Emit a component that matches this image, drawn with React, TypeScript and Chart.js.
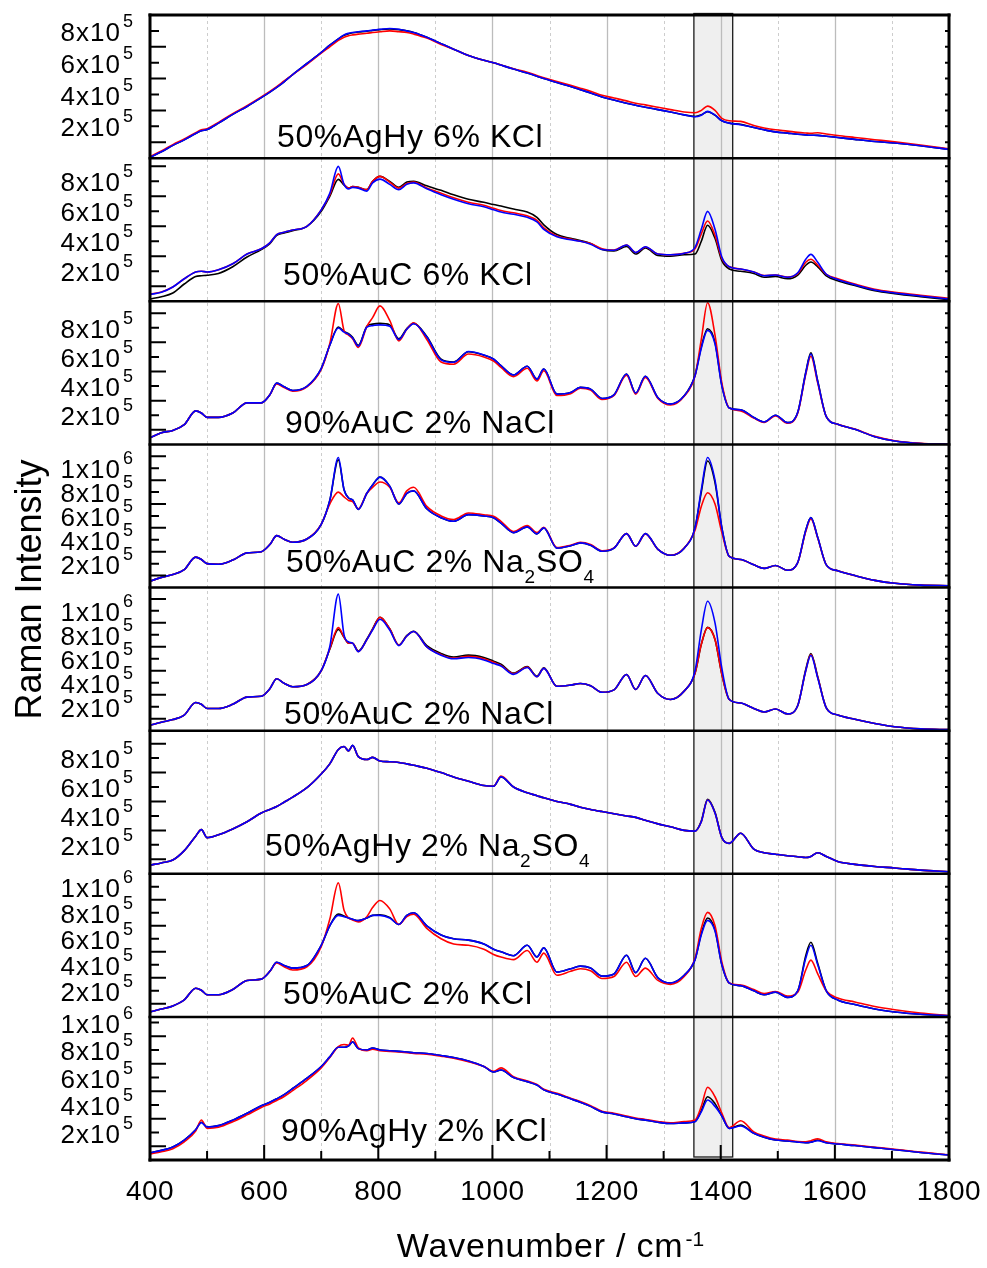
import React, { useEffect, useRef } from 'react';
import { Chart, registerables } from 'chart.js';

Chart.register(...registerables);

const FONT = '"Liberation Sans", Arial, Helvetica, sans-serif';

// Wavenumber grid, cm^-1
const WAVENUMBERS = [
  400, 420, 440, 460, 480, 490, 500, 520, 545, 570,
  595, 610, 622, 635, 650, 675, 700, 715, 730, 740,
  748, 755, 765, 780, 790, 803, 820, 836, 850, 862,
  885, 910, 932, 958, 985, 1002, 1015, 1037, 1061, 1078,
  1090, 1113, 1137, 1154, 1172, 1192, 1213, 1235, 1251, 1268,
  1290, 1312, 1336, 1355, 1366, 1377, 1390, 1402, 1415, 1435,
  1458, 1476, 1496, 1517, 1535, 1549, 1558, 1570, 1585, 1605,
  1635, 1670, 1705, 1750, 1800,
];

// Raman intensities, in units of 1e5
// Panel 1: 50%AgHy 6% KCl
const P1_BLACK = [
  0.06, 0.4, 0.8, 1.15, 1.55, 1.72, 1.8, 2.2, 2.75, 3.25,
  3.8, 4.15, 4.45, 4.8, 5.25, 5.95, 6.65, 7.1, 7.5, 7.72,
  7.82, 7.88, 7.93, 7.98, 8.03, 8.08, 8.12, 8.08, 8.0, 7.9,
  7.6, 7.2, 6.85, 6.45, 6.15, 6.0, 5.85, 5.6, 5.35, 5.15,
  5.0, 4.75, 4.5, 4.3, 4.1, 3.85, 3.65, 3.45, 3.32, 3.2,
  3.05, 2.9, 2.72, 2.62, 2.72, 2.92, 2.7, 2.35, 2.2, 2.12,
  1.92, 1.78, 1.65, 1.57, 1.5, 1.46, 1.44, 1.43, 1.38, 1.3,
  1.18, 1.05, 0.95, 0.78, 0.55,
];
const P1_RED = [
  0.1, 0.45, 0.85, 1.2, 1.6, 1.78, 1.85, 2.25, 2.8, 3.3,
  3.85, 4.2, 4.5, 4.85, 5.25, 5.9, 6.6, 7.0, 7.4, 7.6,
  7.7, 7.75, 7.8, 7.85, 7.9, 7.95, 8.0, 7.95, 7.9, 7.8,
  7.55, 7.15, 6.85, 6.45, 6.15, 6.0, 5.85, 5.62, 5.4, 5.2,
  5.05, 4.82, 4.58, 4.4, 4.2, 3.95, 3.78, 3.6, 3.45, 3.35,
  3.2, 3.05, 2.9, 2.85, 3.0, 3.27, 3.0, 2.5, 2.35, 2.31,
  2.05, 1.9, 1.78, 1.7, 1.62, 1.58, 1.56, 1.6, 1.52, 1.42,
  1.3, 1.16, 1.02, 0.82, 0.58,
];
const P1_BLUE = [
  0.06, 0.4, 0.8, 1.15, 1.55, 1.72, 1.8, 2.2, 2.75, 3.25,
  3.8, 4.15, 4.45, 4.8, 5.25, 5.95, 6.65, 7.1, 7.5, 7.75,
  7.85, 7.9, 7.95, 8.0, 8.05, 8.1, 8.15, 8.1, 8.0, 7.9,
  7.6, 7.2, 6.85, 6.45, 6.15, 6.0, 5.85, 5.6, 5.35, 5.15,
  5.0, 4.75, 4.5, 4.3, 4.1, 3.85, 3.65, 3.45, 3.32, 3.2,
  3.05, 2.9, 2.72, 2.6, 2.7, 2.94, 2.7, 2.35, 2.2, 2.1,
  1.92, 1.78, 1.65, 1.57, 1.5, 1.46, 1.44, 1.43, 1.38, 1.3,
  1.18, 1.05, 0.95, 0.78, 0.55,
];

// Panel 2: 50%AuC 6% KCl
const P2_BLACK = [
  0.15, 0.3, 0.55, 1.15, 1.65, 1.7, 1.73, 1.85, 2.3, 2.95,
  3.45, 3.85, 4.4, 4.55, 4.7, 5.0, 6.0, 7.0, 8.13, 7.75,
  7.55, 7.65, 7.6, 7.45, 8.0, 8.33, 8.0, 7.6, 7.95, 8.0,
  7.7, 7.4, 7.1, 6.8, 6.6, 6.45, 6.35, 6.15, 5.95, 5.6,
  5.1, 4.45, 4.2, 4.05, 3.85, 3.45, 3.35, 3.65, 3.15, 3.55,
  3.05, 3.0, 3.1, 3.15, 4.0, 5.07, 4.2, 2.7, 2.15, 2.0,
  1.85, 1.6, 1.65, 1.5, 1.75, 2.4, 2.62, 2.3, 1.7, 1.36,
  1.05, 0.7, 0.5, 0.3, 0.1,
];
const P2_RED = [
  0.48, 0.62, 0.95, 1.5, 1.95, 2.0, 1.95, 2.1, 2.5, 3.15,
  3.5, 3.9, 4.45, 4.6, 4.75, 5.0, 6.1, 7.1, 8.5, 7.8,
  7.55, 7.65, 7.6, 7.45, 8.0, 8.33, 7.95, 7.55, 7.85, 7.95,
  7.55, 7.2, 6.9, 6.6, 6.4, 6.2, 6.05, 5.9, 5.7, 5.4,
  4.9, 4.35, 4.15, 4.0, 3.85, 3.5, 3.42, 3.75, 3.25, 3.62,
  3.15, 3.1, 3.2, 3.5, 4.5, 5.35, 4.4, 2.85, 2.3, 2.15,
  1.95, 1.72, 1.75, 1.62, 1.85, 2.6, 2.8, 2.4, 1.8, 1.5,
  1.15, 0.8, 0.6, 0.4, 0.2,
];
const P2_BLUE = [
  0.45, 0.6, 0.95, 1.5, 1.95, 2.0, 1.95, 2.1, 2.5, 3.15,
  3.5, 3.9, 4.45, 4.6, 4.75, 5.0, 6.1, 7.2, 9.0, 7.8,
  7.5, 7.6, 7.55, 7.35, 7.9, 8.15, 7.8, 7.45, 7.8, 7.9,
  7.5, 7.1, 6.8, 6.5, 6.3, 6.1, 5.95, 5.8, 5.6, 5.3,
  4.8, 4.3, 4.1, 4.0, 3.8, 3.45, 3.4, 3.75, 3.25, 3.64,
  3.15, 3.1, 3.2, 3.6, 4.8, 6.0, 4.8, 2.95, 2.3, 2.15,
  1.95, 1.7, 1.75, 1.6, 1.9, 2.8, 3.13, 2.6, 1.8, 1.45,
  1.1, 0.75, 0.55, 0.35, 0.15,
];

// Panel 3: 90%AuC 2% NaCl
const P3_BLACK = [
  0.46, 0.8, 0.96, 1.35, 2.3, 2.15, 1.85, 1.85, 2.15, 2.85,
  2.85, 3.4, 4.2, 3.95, 3.7, 3.98, 5.2, 6.8, 8.05, 7.75,
  7.6, 7.35, 6.8, 8.1, 8.25, 8.3, 8.2, 7.25, 7.95, 8.3,
  7.4, 5.85, 5.65, 6.35, 6.12, 5.85, 5.4, 4.76, 5.36, 4.48,
  5.17, 3.45, 3.56, 3.91, 3.79, 3.15, 3.4, 4.83, 3.52, 4.67,
  3.2, 2.76, 3.33, 4.75, 6.7, 7.93, 7.0, 4.05, 2.5, 2.37,
  1.84, 1.54, 2.0, 1.49, 2.2, 4.95, 6.28, 4.35, 1.9, 1.38,
  1.03, 0.53, 0.23, 0.06, 0.0,
];
const P3_RED = [
  0.46, 0.8, 0.96, 1.35, 2.3, 2.15, 1.85, 1.85, 2.15, 2.85,
  2.85, 3.4, 4.15, 3.9, 3.65, 3.95, 5.15, 6.9, 9.66, 7.8,
  7.5, 7.25, 6.65, 8.1, 8.7, 9.5, 8.5, 7.1, 7.9, 8.35,
  7.2, 5.65, 5.5, 6.2, 6.0, 5.72, 5.28, 4.65, 5.22, 4.35,
  5.05, 3.35, 3.48, 3.85, 3.72, 3.08, 3.35, 4.75, 3.45, 4.6,
  3.15, 2.7, 3.3, 4.7, 7.2, 9.72, 7.5, 4.2, 2.5, 2.3,
  1.8, 1.5, 1.95, 1.45, 2.15, 4.8, 6.05, 4.2, 1.9, 1.38,
  1.05, 0.55, 0.25, 0.07, 0.0,
];
const P3_BLUE = [
  0.46, 0.8, 0.96, 1.35, 2.3, 2.15, 1.85, 1.85, 2.15, 2.85,
  2.85, 3.4, 4.2, 3.95, 3.7, 3.98, 5.2, 6.8, 7.98, 7.7,
  7.55, 7.3, 6.74, 8.05, 8.15, 8.2, 8.1, 7.2, 7.9, 8.28,
  7.36, 5.8, 5.63, 6.37, 6.14, 5.86, 5.4, 4.76, 5.36, 4.48,
  5.17, 3.45, 3.56, 3.91, 3.79, 3.15, 3.4, 4.83, 3.52, 4.67,
  3.2, 2.76, 3.33, 4.7, 6.6, 7.82, 6.9, 4.0, 2.5, 2.37,
  1.84, 1.54, 2.0, 1.49, 2.2, 4.9, 6.2, 4.3, 1.9, 1.38,
  1.03, 0.53, 0.23, 0.06, 0.0,
];

// Panel 4: 50%AuC 2% Na2SO4
const P4_BLACK = [
  0.53, 0.85, 1.09, 1.5, 2.55, 2.35, 2.0, 1.95, 2.3, 2.9,
  3.0, 3.6, 4.35, 4.05, 3.8, 4.07, 5.3, 7.3, 10.7, 8.2,
  7.5, 7.35, 6.55, 7.9, 8.6, 9.25, 8.5, 7.0, 7.9, 8.1,
  6.6, 5.85, 5.55, 6.11, 6.0, 5.85, 5.4, 4.6, 5.08, 4.5,
  5.0, 3.3, 3.5, 3.74, 3.55, 3.04, 3.3, 4.52, 3.46, 4.52,
  3.2, 2.7, 3.3, 5.0, 8.0, 10.6, 8.8, 5.0, 2.6, 2.35,
  1.9, 1.6, 1.85, 1.45, 2.1, 4.8, 5.86, 4.2, 1.9, 1.4,
  1.0, 0.6, 0.35, 0.2, 0.15,
];
const P4_RED = [
  0.53, 0.85, 1.09, 1.5, 2.55, 2.35, 2.0, 1.95, 2.3, 2.9,
  3.0, 3.6, 4.35, 4.05, 3.8, 4.07, 5.3, 7.0, 8.0, 7.6,
  7.3, 7.2, 6.6, 7.9, 8.4, 8.85, 8.4, 7.1, 8.1, 8.4,
  6.8, 6.0, 5.7, 6.25, 6.1, 5.98, 5.55, 4.7, 5.2, 4.6,
  5.05, 3.35, 3.55, 3.78, 3.6, 3.08, 3.32, 4.52, 3.46, 4.5,
  3.2, 2.7, 3.3, 4.8, 6.8, 7.95, 7.0, 4.6, 2.6, 2.35,
  1.9, 1.6, 1.85, 1.45, 2.1, 4.7, 5.75, 4.15, 1.9, 1.4,
  1.0, 0.6, 0.35, 0.2, 0.15,
];
const P4_BLUE = [
  0.53, 0.85, 1.09, 1.5, 2.55, 2.35, 2.0, 1.95, 2.3, 2.9,
  3.0, 3.6, 4.35, 4.05, 3.8, 4.07, 5.3, 7.3, 10.9, 8.2,
  7.5, 7.35, 6.55, 7.9, 8.6, 9.25, 8.5, 7.0, 7.9, 8.1,
  6.6, 5.85, 5.55, 6.11, 6.0, 5.85, 5.4, 4.6, 5.08, 4.5,
  5.0, 3.3, 3.5, 3.74, 3.55, 3.04, 3.3, 4.52, 3.46, 4.52,
  3.2, 2.7, 3.3, 5.0, 8.2, 10.9, 9.0, 5.0, 2.6, 2.35,
  1.9, 1.6, 1.85, 1.45, 2.1, 4.8, 5.86, 4.2, 1.9, 1.4,
  1.0, 0.6, 0.35, 0.2, 0.15,
];

// Panel 5: 50%AuC 2% NaCl
const P5_BLACK = [
  0.45, 0.7, 0.92, 1.3, 2.35, 2.2, 1.85, 1.85, 2.2, 2.8,
  2.87, 3.5, 4.33, 3.95, 3.66, 3.85, 5.0, 6.8, 8.45, 7.8,
  7.3, 7.3, 6.65, 7.65, 8.5, 9.46, 8.5, 7.15, 7.95, 8.3,
  7.1, 6.45, 6.15, 6.3, 6.1, 5.8, 5.55, 4.8, 5.35, 4.55,
  5.25, 3.7, 3.8, 3.93, 3.75, 3.2, 3.4, 4.69, 3.43, 4.6,
  3.1, 2.6, 3.3, 4.8, 7.2, 8.62, 7.6, 4.7, 2.6, 2.3,
  1.85, 1.55, 1.8, 1.4, 2.1, 5.1, 6.44, 4.5, 1.9, 1.3,
  0.95, 0.6, 0.33, 0.15, 0.08,
];
const P5_RED = [
  0.45, 0.7, 0.92, 1.3, 2.35, 2.2, 1.85, 1.85, 2.2, 2.8,
  2.87, 3.5, 4.33, 3.95, 3.66, 3.85, 5.0, 6.85, 8.6, 7.8,
  7.3, 7.3, 6.6, 7.6, 8.45, 9.46, 8.5, 7.15, 7.9, 8.28,
  7.0, 6.35, 6.05, 6.2, 6.0, 5.7, 5.45, 4.75, 5.3, 4.5,
  5.2, 3.7, 3.8, 3.93, 3.75, 3.2, 3.4, 4.69, 3.43, 4.6,
  3.1, 2.6, 3.3, 4.8, 7.2, 8.6, 7.6, 4.7, 2.6, 2.3,
  1.85, 1.55, 1.8, 1.4, 2.1, 5.0, 6.35, 4.45, 1.9, 1.3,
  0.95, 0.6, 0.33, 0.15, 0.08,
];
const P5_BLUE = [
  0.45, 0.7, 0.92, 1.3, 2.35, 2.2, 1.85, 1.85, 2.2, 2.8,
  2.87, 3.5, 4.33, 3.95, 3.66, 3.85, 5.0, 7.0, 11.4, 8.0,
  7.4, 7.3, 6.6, 7.6, 8.4, 9.3, 8.4, 7.1, 7.9, 8.28,
  7.0, 6.3, 6.0, 6.1, 5.9, 5.6, 5.4, 4.7, 5.27, 4.5,
  5.2, 3.7, 3.8, 3.93, 3.75, 3.2, 3.4, 4.69, 3.43, 4.6,
  3.1, 2.6, 3.3, 5.0, 8.4, 10.8, 9.0, 5.2, 2.6, 2.3,
  1.85, 1.55, 1.8, 1.4, 2.1, 5.0, 6.28, 4.4, 1.9, 1.3,
  0.95, 0.6, 0.33, 0.15, 0.08,
];

// Panel 6: 50%AgHy 2% Na2SO4
const P6_BLACK = [
  0.6, 0.75, 0.95, 1.6, 2.6, 3.05, 2.5, 2.7, 3.1, 3.6,
  4.2, 4.45, 4.65, 4.95, 5.3, 5.95, 6.9, 7.6, 8.6, 8.8,
  8.5, 8.88, 8.1, 7.9, 8.05, 7.8, 7.75, 7.7, 7.6, 7.5,
  7.3, 7.0, 6.7, 6.4, 6.1, 6.05, 6.7, 6.0, 5.6, 5.4,
  5.25, 5.0, 4.8, 4.6, 4.45, 4.3, 4.15, 4.0, 3.9, 3.7,
  3.45, 3.25, 3.0, 2.95, 3.65, 5.15, 4.25, 2.5, 2.1, 2.8,
  1.7, 1.45, 1.35, 1.25, 1.18, 1.12, 1.2, 1.45, 1.2, 0.85,
  0.65, 0.5, 0.4, 0.25, 0.14,
];
const P6_RED = [
  0.6, 0.75, 0.95, 1.6, 2.6, 3.05, 2.5, 2.7, 3.1, 3.6,
  4.2, 4.45, 4.65, 4.95, 5.3, 5.95, 6.9, 7.6, 8.6, 8.8,
  8.5, 8.85, 8.1, 7.9, 8.05, 7.8, 7.75, 7.7, 7.6, 7.5,
  7.3, 7.0, 6.7, 6.4, 6.1, 6.05, 6.75, 6.0, 5.6, 5.4,
  5.25, 5.0, 4.8, 4.6, 4.45, 4.3, 4.15, 4.0, 3.9, 3.7,
  3.45, 3.25, 3.0, 2.95, 3.6, 5.1, 4.2, 2.5, 2.1, 2.8,
  1.7, 1.45, 1.35, 1.25, 1.18, 1.12, 1.2, 1.45, 1.2, 0.85,
  0.65, 0.5, 0.4, 0.25, 0.14,
];
const P6_BLUE = [
  0.6, 0.75, 0.95, 1.6, 2.6, 3.05, 2.5, 2.7, 3.1, 3.6,
  4.2, 4.45, 4.65, 4.95, 5.3, 5.95, 6.9, 7.6, 8.6, 8.8,
  8.5, 8.88, 8.1, 7.9, 8.05, 7.8, 7.75, 7.7, 7.6, 7.5,
  7.3, 7.0, 6.7, 6.4, 6.1, 6.05, 6.7, 6.0, 5.6, 5.4,
  5.25, 5.0, 4.8, 4.6, 4.45, 4.3, 4.15, 4.0, 3.9, 3.7,
  3.45, 3.25, 3.0, 2.95, 3.6, 5.1, 4.2, 2.5, 2.1, 2.8,
  1.7, 1.45, 1.35, 1.25, 1.18, 1.12, 1.2, 1.45, 1.2, 0.85,
  0.65, 0.5, 0.4, 0.25, 0.14,
];

// Panel 7: 50%AuC 2% KCl
const P7_BLACK = [
  0.38, 0.6, 0.84, 1.3, 2.2, 2.05, 1.7, 1.7, 2.1, 2.8,
  2.9, 3.5, 4.2, 3.95, 3.75, 3.95, 5.5, 7.0, 7.9, 7.75,
  7.6, 7.5, 7.4, 7.6, 7.8, 7.85, 7.65, 7.1, 7.8, 8.0,
  7.0, 6.3, 6.0, 5.9, 5.6, 5.2, 5.0, 4.7, 5.5, 4.6,
  5.3, 3.44, 3.7, 3.9, 3.75, 3.13, 3.3, 4.74, 3.4, 4.5,
  3.0, 2.6, 3.2, 4.4, 6.4, 7.6, 6.7, 4.0, 2.6, 2.4,
  2.0, 1.7, 1.9, 1.5, 2.0, 4.7, 5.73, 4.1, 2.0, 1.3,
  0.95, 0.6, 0.38, 0.2, 0.08,
];
const P7_RED = [
  0.38, 0.6, 0.84, 1.3, 2.2, 2.05, 1.7, 1.7, 2.1, 2.8,
  2.9, 3.5, 4.15, 3.85, 3.6, 3.85, 5.4, 7.5, 10.3, 8.2,
  7.6, 7.45, 7.3, 7.7, 8.4, 8.94, 8.3, 7.1, 7.7, 7.9,
  6.8, 6.0, 5.6, 5.5, 5.2, 4.8, 4.6, 4.4, 5.1, 4.2,
  4.9, 3.2, 3.5, 3.7, 3.55, 2.95, 3.1, 4.2, 3.1, 3.75,
  2.8, 2.5, 3.1, 4.5, 6.8, 8.03, 7.0, 4.2, 2.6, 2.45,
  2.1, 1.8, 1.95, 1.6, 1.9, 3.6, 4.36, 3.3, 2.0, 1.45,
  1.15, 0.8, 0.55, 0.3, 0.1,
];
const P7_BLUE = [
  0.38, 0.6, 0.84, 1.3, 2.2, 2.05, 1.7, 1.7, 2.1, 2.8,
  2.9, 3.5, 4.2, 3.95, 3.75, 3.95, 5.5, 7.0, 7.8, 7.7,
  7.6, 7.5, 7.4, 7.6, 7.8, 7.8, 7.6, 7.1, 7.8, 8.0,
  7.0, 6.3, 6.0, 5.9, 5.6, 5.2, 5.0, 4.7, 5.5, 4.6,
  5.3, 3.44, 3.7, 3.9, 3.75, 3.13, 3.3, 4.74, 3.4, 4.5,
  3.0, 2.6, 3.2, 4.4, 6.3, 7.42, 6.6, 4.0, 2.6, 2.4,
  2.0, 1.7, 1.9, 1.5, 2.0, 4.5, 5.5, 4.0, 2.0, 1.3,
  0.95, 0.6, 0.38, 0.2, 0.08,
];

// Panel 8: 90%AgHy 2% KCl
const P8_BLACK = [
  0.53, 0.7, 0.95, 1.45, 2.2, 2.75, 2.4, 2.5, 2.9, 3.4,
  3.95, 4.2, 4.45, 4.75, 5.2, 5.95, 6.8, 7.5, 8.2, 8.2,
  8.3, 8.6, 8.1, 8.0, 8.15, 8.0, 7.95, 7.9, 7.85, 7.8,
  7.75, 7.6, 7.45, 7.2, 6.8, 6.4, 6.55, 6.0, 5.7, 5.45,
  5.1, 4.8, 4.45, 4.2, 3.9, 3.5, 3.35, 3.15, 3.0, 2.9,
  2.75, 2.65, 2.7, 2.8, 3.6, 4.6, 4.1, 3.2, 2.3, 2.55,
  1.94, 1.65, 1.45, 1.38, 1.3, 1.26, 1.3, 1.45, 1.25, 1.16,
  1.05, 0.9, 0.75, 0.55, 0.36,
];
const P8_RED = [
  0.44, 0.6, 0.82, 1.32, 2.1, 2.91, 2.3, 2.38, 2.78, 3.28,
  3.82, 4.08, 4.33, 4.62, 5.05, 5.8, 6.7, 7.45, 8.25, 8.4,
  8.35, 8.87, 8.15, 7.95, 8.05, 7.95, 7.9, 7.85, 7.8, 7.75,
  7.7, 7.55, 7.4, 7.15, 6.8, 6.45, 6.7, 6.05, 5.75, 5.5,
  5.15, 4.85, 4.5, 4.25, 3.95, 3.55, 3.4, 3.2, 3.05, 2.95,
  2.8, 2.7, 2.8, 2.91, 3.9, 5.29, 4.6, 3.4, 2.35, 2.86,
  2.05, 1.75, 1.52, 1.45, 1.35, 1.32, 1.4, 1.55, 1.32, 1.2,
  1.08, 0.93, 0.78, 0.57, 0.38,
];
const P8_BLUE = [
  0.53, 0.7, 0.95, 1.45, 2.2, 2.71, 2.4, 2.5, 2.9, 3.4,
  3.95, 4.2, 4.45, 4.75, 5.2, 5.95, 6.8, 7.5, 8.2, 8.2,
  8.3, 8.58, 8.1, 8.0, 8.15, 8.0, 7.95, 7.9, 7.85, 7.8,
  7.75, 7.6, 7.45, 7.2, 6.8, 6.4, 6.55, 6.0, 5.7, 5.45,
  5.1, 4.8, 4.45, 4.2, 3.9, 3.5, 3.35, 3.15, 3.0, 2.9,
  2.75, 2.65, 2.7, 2.79, 3.5, 4.36, 3.9, 3.2, 2.3, 2.47,
  1.94, 1.65, 1.45, 1.38, 1.3, 1.26, 1.3, 1.4, 1.25, 1.16,
  1.05, 0.9, 0.75, 0.55, 0.36,
];

const PANEL_LABELS = [
  '50%AgHy 6% KCl',
  '50%AuC 6% KCl',
  '90%AuC 2% NaCl',
  '50%AuC 2% Na_2SO_4',
  '50%AuC 2% NaCl',
  '50%AgHy 2% Na_2SO_4',
  '50%AuC 2% KCl',
  '90%AgHy 2% KCl',
];
const PANEL_Y_MIN = [0, 0, 0, 0, 0, 0, 0, 0];
const PANEL_Y_MAX = [9.0, 9.55, 9.82, 12.0, 11.95, 9.9, 11.0, 10.41];
const Y_LABELED_TICKS = [2, 4, 6, 8, 10];
const X_TICK_LABELS = [400, 600, 800, 1000, 1200, 1400, 1600, 1800];
const X_GRID = [500, 600, 700, 800, 900, 1000, 1100, 1200, 1300, 1400, 1500, 1600, 1700];
const SHADE_RANGE = [1353, 1421];
const Y_TITLE = 'Raman Intensity';
const X_TITLE = 'Wavenumber / cm';
const X_TITLE_SUP = '-1';

const SERIES = [
  [P1_BLACK, P1_RED, P1_BLUE],
  [P2_BLACK, P2_RED, P2_BLUE],
  [P3_BLACK, P3_RED, P3_BLUE],
  [P4_BLACK, P4_RED, P4_BLUE],
  [P5_BLACK, P5_RED, P5_BLUE],
  [P6_BLACK, P6_RED, P6_BLUE],
  [P7_BLACK, P7_RED, P7_BLUE],
  [P8_BLACK, P8_RED, P8_BLUE],
];
const COLORS = ['#000000', '#ff0000', '#0000ff'];
const DRAW_ORDER = [2, 1, 0]; // black bottom, blue on top

// Layout (pixels)
const LABEL_POS = [
  [277, 147], [283, 285], [285, 433], [286, 572],
  [284, 724], [265, 856], [283, 1004], [281, 1141],
];

function setSpacing(ctx: any, v: string) {
  if ('letterSpacing' in ctx) ctx.letterSpacing = v;
}

const decorPlugin = {
  id: 'decor',
  beforeDatasetsDraw(chart: any) {
    const { ctx, chartArea: a } = chart;
    const xs = chart.scales.x;
    ctx.save();
    const s0 = xs.getPixelForValue(SHADE_RANGE[0]);
    const s1 = xs.getPixelForValue(SHADE_RANGE[1]);
    ctx.fillStyle = '#efefef';
    ctx.fillRect(s0, a.top - 1.5, s1 - s0, a.bottom - a.top - 1.5);
    for (const v of X_GRID) {
      const px = Math.round(xs.getPixelForValue(v)) + 0.5;
      ctx.beginPath();
      if (v % 200 === 0) {
        ctx.setLineDash([]);
        ctx.strokeStyle = '#bcbcbc';
        ctx.lineWidth = 1.3;
      } else {
        ctx.setLineDash([3, 3]);
        ctx.strokeStyle = '#cdcdcd';
        ctx.lineWidth = 1;
      }
      ctx.moveTo(px, a.top);
      ctx.lineTo(px, a.bottom);
      ctx.stroke();
    }
    ctx.setLineDash([]);
    ctx.strokeStyle = '#1a1a1a';
    ctx.lineWidth = 1.3;
    ctx.strokeRect(s0, a.top - 1.5, s1 - s0, a.bottom - a.top - 1.5);
    ctx.restore();
  },
  afterDatasetsDraw(chart: any) {
    const { ctx, chartArea: a } = chart;
    const xs = chart.scales.x;
    ctx.save();
    ctx.strokeStyle = '#000';
    ctx.fillStyle = '#000';
    ctx.lineCap = 'butt';

    for (let i = 0; i < PANEL_LABELS.length; i++) {
      const ys = chart.scales['y' + i];
      const max = PANEL_Y_MAX[i];
      // separators
      ctx.lineWidth = 3;
      if (i === 0) {
        ctx.beginPath();
        ctx.moveTo(a.left - 1.5, ys.top);
        ctx.lineTo(a.right + 1.5, ys.top);
        ctx.stroke();
      }
      ctx.lineWidth = i === PANEL_LABELS.length - 1 ? 3 : 2.5;
      ctx.beginPath();
      ctx.moveTo(a.left - 1.5, ys.bottom);
      ctx.lineTo(a.right + 1.5, ys.bottom);
      ctx.stroke();

      // ticks
      ctx.lineWidth = 2;
      for (let v = 1; v < max - 0.05; v++) {
        const py = ys.getPixelForValue(v);
        const len = v % 2 === 0 ? 9 : 16;
        ctx.beginPath();
        ctx.moveTo(a.left, py);
        ctx.lineTo(a.left + len, py);
        ctx.moveTo(a.right, py);
        ctx.lineTo(a.right - 4, py);
        ctx.stroke();
      }

      // tick labels
      for (const v of Y_LABELED_TICKS) {
        if (v >= max) continue;
        const py = ys.getPixelForValue(v);
        const main = v === 10 ? '1x10' : `${v}x10`;
        const sup = v === 10 ? '6' : '5';
        ctx.font = `26px ${FONT}`;
        setSpacing(ctx, '1px');
        ctx.textAlign = 'right';
        ctx.textBaseline = 'alphabetic';
        ctx.fillText(main, 121, py + 10);
        ctx.font = `18px ${FONT}`;
        setSpacing(ctx, '0px');
        ctx.textAlign = 'left';
        ctx.fillText(sup, 123, py - 4);
      }

      // panel label with subscripts
      const parts = PANEL_LABELS[i].split(/_(\d)/);
      let lx = LABEL_POS[i][0];
      const ly = LABEL_POS[i][1];
      ctx.textAlign = 'left';
      parts.forEach((p, k) => {
        if (!p) return;
        const isSub = k % 2 === 1;
        ctx.font = isSub ? `19px ${FONT}` : `32px ${FONT}`;
        setSpacing(ctx, isSub ? '0px' : '0.6px');
        ctx.fillText(p, lx, isSub ? ly + 11 : ly);
        lx += ctx.measureText(p).width + (isSub ? 1 : 0);
      });
    }

    // left / right frame
    ctx.lineWidth = 3;
    ctx.beginPath();
    ctx.moveTo(a.left, a.top - 1.5);
    ctx.lineTo(a.left, a.bottom + 1.5);
    ctx.moveTo(a.right, a.top - 1.5);
    ctx.lineTo(a.right, a.bottom + 1.5);
    ctx.stroke();

    // bottom ticks
    ctx.lineWidth = 2;
    for (const v of X_GRID) {
      const px = xs.getPixelForValue(v);
      const len = v % 200 === 0 ? 15 : 9;
      ctx.beginPath();
      ctx.moveTo(px, a.bottom);
      ctx.lineTo(px, a.bottom - len);
      ctx.stroke();
    }

    // x tick labels
    ctx.font = `28px ${FONT}`;
    setSpacing(ctx, '0.5px');
    ctx.textAlign = 'center';
    ctx.textBaseline = 'alphabetic';
    for (const v of X_TICK_LABELS) {
      ctx.fillText(String(v), xs.getPixelForValue(v), a.bottom + 40);
    }

    // x title
    ctx.font = `34px ${FONT}`;
    setSpacing(ctx, '0.8px');
    const wMain = ctx.measureText(X_TITLE).width;
    ctx.font = `21px ${FONT}`;
    setSpacing(ctx, '0px');
    const wSup = ctx.measureText(X_TITLE_SUP).width;
    const cx = (a.left + a.right) / 2 + 1;
    const startX = cx - (wMain + wSup + 2) / 2;
    ctx.textAlign = 'left';
    ctx.font = `34px ${FONT}`;
    setSpacing(ctx, '0.8px');
    ctx.fillText(X_TITLE, startX, a.bottom + 97);
    ctx.font = `21px ${FONT}`;
    setSpacing(ctx, '0px');
    ctx.fillText(X_TITLE_SUP, startX + wMain + 2, a.bottom + 86);

    // y title
    ctx.save();
    ctx.translate(41, 589.5);
    ctx.rotate(-Math.PI / 2);
    ctx.font = `36px ${FONT}`;
    setSpacing(ctx, '0px');
    ctx.textAlign = 'center';
    ctx.fillText(Y_TITLE, 0, 0);
    ctx.restore();

    ctx.restore();
  },
};

export default function App() {
  const ref = useRef<HTMLCanvasElement>(null);

  useEffect(() => {
    document.body.style.margin = '0';
    const canvas = ref.current;
    if (!canvas) return;

    const datasets: any[] = [];
    SERIES.forEach((group, p) => {
      group.forEach((values, c) => {
        datasets.push({
          label: `${PANEL_LABELS[p]} ${c}`,
          data: WAVENUMBERS.map((x, i) => ({ x, y: values[i] })),
          xAxisID: 'x',
          yAxisID: 'y' + p,
          borderColor: COLORS[c],
          borderWidth: 1.6,
          pointRadius: 0,
          fill: false,
          cubicInterpolationMode: 'monotone',
          order: DRAW_ORDER[c],
        });
      });
    });

    // Stacked left axes are laid out bottom-up in insertion order,
    // so insert the bottom panel's scale first.
    const scales: any = {
      x: { type: 'linear', min: 400, max: 1800, display: false },
    };
    for (let p = PANEL_LABELS.length - 1; p >= 0; p--) {
      scales['y' + p] = {
        type: 'linear',
        display: false,
        min: PANEL_Y_MIN[p],
        max: PANEL_Y_MAX[p],
        position: 'left',
        stack: 'panels',
        stackWeight: 1,
      };
    }

    const chart = new Chart(canvas, {
      type: 'line',
      data: { datasets },
      options: {
        animation: false,
        responsive: false,
        devicePixelRatio: 1,
        events: [],
        layout: { padding: { left: 150, right: 38, top: 15, bottom: 108 } },
        plugins: { legend: { display: false }, tooltip: { enabled: false } },
        scales,
      },
      plugins: [decorPlugin],
    } as any);

    return () => chart.destroy();
  }, []);

  return (
    <div style={{ width: 987, height: 1268, background: '#fff' }}>
      <canvas ref={ref} width={987} height={1268} style={{ display: 'block', width: 987, height: 1268 }} />
    </div>
  );
}
